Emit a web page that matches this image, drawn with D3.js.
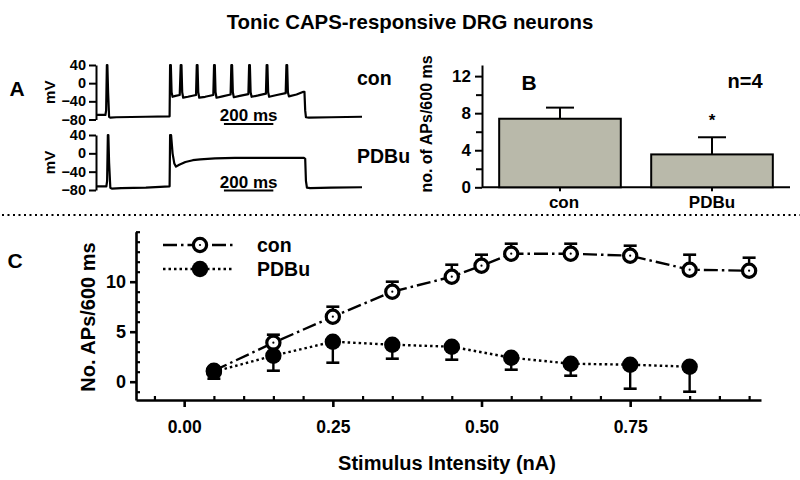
<!DOCTYPE html>
<html><head><meta charset="utf-8">
<script src="https://cdn.jsdelivr.net/npm/d3@7"></script>
<style>body{margin:0;background:#fff}svg{display:block}text{font-family:"Liberation Sans",Arial,sans-serif;font-weight:bold;fill:#000}</style>
</head><body><svg id="c" width="800" height="480"></svg>
<script>
// ---- Panel A: voltage traces [time ms, mV] ----
const traceCon = [[0,-70],[36,-70],[39,-60],[42,40],[44,40],[47,-20],[51,-74],[56,-76],[80,-75],[200,-74],[296,-73],
 [298,40],[301,40],[304,-20],[308,-30],[320,-28],[337,-26],
 [341,40],[344,40],[347,-20],[351,-32],[370,-30],[403,-26],
 [406,40],[409,40],[412,-20],[416,-32],[440,-30],[473,-26],
 [476,40],[479,40],[482,-20],[486,-32],[510,-29],[543,-25],
 [546,40],[549,40],[552,-20],[556,-31],[580,-28],[615,-24],
 [618,40],[621,40],[624,-20],[628,-30],[655,-27],[686,-23],
 [689,40],[692,40],[695,-20],[699,-30],[730,-26],[766,-22],
 [769,40],[772,40],[775,-20],[779,-29],[810,-25],[838,-19],
 [842,-19],[845,-60],[848,-75],[860,-76],[950,-75],[1075,-74]];
const tracePDBu = [[0,-72],[40,-72],[43,-60],[46,40],[48,40],[51,-20],[56,-75],[62,-77],[100,-76],[200,-75],[296,-72],
 [298,40],[302,40],[308,0],[315,-22],[322,-29],[335,-25],[360,-19],[390,-15],[420,-13],[480,-11],[560,-10],[700,-10],[840,-10],
 [845,-12],[848,-60],[852,-75],[865,-76],[950,-75],[1075,-74]];
const mvTicks = [40,0,-40,-80];
const traceLabels = ["con","PDBu"];
const scaleBarMs = [516, 716];

// ---- Panel B: bar chart ----
const bCategories = ["con","PDBu"];
const bMeans = [7.4, 3.55];
const bErr = [1.2, 1.85];
const bTicks = [0,4,8,12];
const bMinor = [2,6,10];

// ---- Panel C: stimulus-response ----
const conX = [0.05,0.15,0.25,0.35,0.45,0.50,0.55,0.65,0.75,0.85,0.95];
const conMean = [1.1,3.9,6.5,9.0,10.5,11.6,12.8,12.8,12.6,11.2,11.1];
const conErr = [0.3,0.8,1.0,1.0,1.2,1.1,1.0,1.0,1.0,1.5,1.3];
const pdbuX = [0.05,0.15,0.25,0.35,0.45,0.55,0.65,0.75,0.85];
const pdbuMean = [1.0,2.6,4.0,3.7,3.5,2.4,1.8,1.7,1.5];
const pdbuErr = [0.7,1.5,2.1,1.4,1.3,1.2,1.2,2.4,2.5];
const cXTicks = [0,0.25,0.5,0.75];
const cXMinor = [-0.05,0.05,0.1,0.15,0.2,0.3,0.35,0.4,0.45,0.55,0.6,0.65,0.7,0.8,0.85,0.9,0.95];
const cYTicks = [0,5,10];
const cYMinor = [-1,1,2,3,4,6,7,8,9,11,12,13,14,15];

const svg = d3.select("#c");

function styleAxis(g, w, fs){
  g.selectAll("path.domain").attr("stroke","#000").attr("stroke-width",w);
  g.selectAll(".tick line").attr("stroke","#000").attr("stroke-width",w);
  g.selectAll(".tick text").style("font-size",fs+"px").style("font-weight","bold").attr("fill","#000");
}

// Title
svg.append("text").attr("x",410).attr("y",29).attr("text-anchor","middle").style("font-size","20.4px")
  .text("Tonic CAPS-responsive DRG neurons");

// ===== Panel A =====
svg.append("text").attr("x",17).attr("y",96).attr("text-anchor","middle").style("font-size","21px").text("A");
const tX = d3.scaleLinear().domain([0,1075]).range([96.5,362]);
const yTop = d3.scaleLinear().domain([-80,40]).range([119.5,65]);
const yBot = d3.scaleLinear().domain([-80,40]).range([190,135]);
const line = (ys)=> d3.line().x(d=>tX(d[0])).y(d=>ys(d[1]));
[[yTop,traceCon,0],[yBot,tracePDBu,1]].forEach(([ys,tr,i])=>{
  const g = svg.append("g").attr("transform","translate(96,0)")
    .call(d3.axisLeft(ys).tickValues(mvTicks).tickSize(7).tickSizeOuter(0).tickPadding(3));
  styleAxis(g,2,14.5);
  svg.append("text").attr("transform",`translate(55,${(ys(40)+ys(-80))/2}) rotate(-90)`)
    .attr("text-anchor","middle").style("font-size","15px").text("mV");
  svg.append("path").datum(tr).attr("d",line(ys)).attr("fill","none").attr("stroke","#000")
    .attr("stroke-width",2.2).attr("stroke-linejoin","round");
  svg.append("text").attr("x",357).attr("y",(i===0?85:163)).style("font-size","19.5px").text(traceLabels[i]);
  const barY = i===0 ? 124 : 190.5;
  svg.append("line").attr("x1",tX(scaleBarMs[0])).attr("x2",tX(scaleBarMs[1])).attr("y1",barY).attr("y2",barY)
    .attr("stroke","#000").attr("stroke-width",2);
  svg.append("text").attr("x",(tX(scaleBarMs[0])+tX(scaleBarMs[1]))/2).attr("y",barY-3).attr("text-anchor","middle")
    .style("font-size","17px").text((scaleBarMs[1]-scaleBarMs[0])+" ms");
});

// ===== Panel B =====
const bx = d3.scaleBand().domain(bCategories).range([482,790]).paddingInner(0.2).paddingOuter(0.113);
const by = d3.scaleLinear().domain([0,13.2]).range([187.3,65]);
const gBy = svg.append("g").attr("transform","translate(482,0)")
  .call(d3.axisLeft(by).tickValues(bTicks).tickSize(7).tickSizeOuter(0).tickPadding(4));
styleAxis(gBy,2,17);
const gBm = svg.append("g").attr("transform","translate(482,0)")
  .call(d3.axisLeft(by).tickValues(bMinor).tickSize(6).tickSizeOuter(0).tickFormat(""));
styleAxis(gBm,2,17); gBm.select("path.domain").remove();
const gBx = svg.append("g").attr("transform","translate(0,187.3)")
  .call(d3.axisBottom(bx).tickSize(4).tickSizeOuter(0).tickPadding(5));
styleAxis(gBx,2,17);
gBx.select("path.domain").attr("d","M482,0H790");
gBx.selectAll(".tick text").attr("dx",(d,i)=>i===0?4:0);
svg.selectAll("rect.bar").data(bCategories).join("rect").attr("class","bar")
  .attr("x",d=>bx(d)).attr("width",bx.bandwidth())
  .attr("y",(d,i)=>by(bMeans[i])).attr("height",(d,i)=>by(0)-by(bMeans[i]))
  .attr("fill","#b9b9aa").attr("stroke","#000").attr("stroke-width",2);
bCategories.forEach((c,i)=>{
  const cx = bx(c)+bx.bandwidth()/2;
  svg.append("line").attr("x1",cx).attr("x2",cx).attr("y1",by(bMeans[i])).attr("y2",by(bMeans[i]+bErr[i]))
    .attr("stroke","#000").attr("stroke-width",2);
  svg.append("line").attr("x1",cx-14).attr("x2",cx+14).attr("y1",by(bMeans[i]+bErr[i])).attr("y2",by(bMeans[i]+bErr[i]))
    .attr("stroke","#000").attr("stroke-width",2);
});
svg.append("text").attr("x",529).attr("y",90).attr("text-anchor","middle").style("font-size","21px").text("B");
svg.append("text").attr("x",745).attr("y",88).attr("text-anchor","middle").style("font-size","20px").text("n=4");
svg.append("text").attr("x",bx("PDBu")+bx.bandwidth()/2).attr("y",126).attr("text-anchor","middle").style("font-size","17px").text("*");
svg.append("text").attr("transform","translate(432,124) rotate(-90)").attr("text-anchor","middle")
  .style("font-size","16px").text("no. of APs/600 ms");

// separator
svg.append("line").attr("x1",2).attr("x2",800).attr("y1",215).attr("y2",215)
  .attr("stroke","#000").attr("stroke-width",2).attr("stroke-dasharray","2,3.5");

// ===== Panel C =====
const cx = d3.scaleLinear().domain([-0.081,0.97]).range([136,761]);
const cy = d3.scaleLinear().domain([-1.83,15]).range([400,231.7]);
const gCx = svg.append("g").attr("transform","translate(0,400)")
  .call(d3.axisBottom(cx).tickValues(cXTicks).tickSize(7).tickSizeOuter(0).tickPadding(14).tickFormat(d3.format(".2f")));
styleAxis(gCx,2.6,17.5);
const gCxm = svg.append("g").attr("transform","translate(0,400)")
  .call(d3.axisBottom(cx).tickValues(cXMinor).tickSize(-4).tickSizeOuter(0).tickFormat(""));
styleAxis(gCxm,2.2,16); gCxm.select("path.domain").remove();
const gCy = svg.append("g").attr("transform","translate(136,0)")
  .call(d3.axisLeft(cy).tickValues(cYTicks).tickSize(6).tickSizeOuter(0).tickPadding(4));
styleAxis(gCy,2.6,18);
const gCym = svg.append("g").attr("transform","translate(136,0)")
  .call(d3.axisLeft(cy).tickValues(cYMinor).tickSize(-4).tickSizeOuter(0).tickFormat(""));
styleAxis(gCym,2.2,16); gCym.select("path.domain").remove();
svg.append("text").attr("x",15).attr("y",268).attr("text-anchor","middle").style("font-size","21px").text("C");
svg.append("text").attr("transform","translate(95,317) rotate(-90)").attr("text-anchor","middle")
  .style("font-size","20px").text("No. APs/600 ms");
svg.append("text").attr("x",447).attr("y",470).attr("text-anchor","middle").style("font-size","20px")
  .text("Stimulus Intensity (nA)");

const conData = conX.map((x,i)=>({x, m:conMean[i], e:conErr[i]}));
const pdbuData = pdbuX.map((x,i)=>({x, m:pdbuMean[i], e:pdbuErr[i]}));
const cLine = d3.line().x(d=>cx(d.x)).y(d=>cy(d.m));
const conDash = "14,4,2.5,4";
const pdbuDash = "2.5,3";
// con
svg.append("path").datum(conData).attr("d",cLine).attr("fill","none").attr("stroke","#000")
  .attr("stroke-width",2.4).attr("stroke-dasharray",conDash);
conData.forEach(d=>{
  const X=cx(d.x);
  svg.append("line").attr("x1",X).attr("x2",X).attr("y1",cy(d.m)).attr("y2",cy(d.m+d.e)).attr("stroke","#000").attr("stroke-width",2.4);
  svg.append("line").attr("x1",X-6.5).attr("x2",X+6.5).attr("y1",cy(d.m+d.e)).attr("y2",cy(d.m+d.e)).attr("stroke","#000").attr("stroke-width",2.6);
});
svg.selectAll("circle.con").data(conData).join("circle").attr("class","con")
  .attr("cx",d=>cx(d.x)).attr("cy",d=>cy(d.m)).attr("r",6.6).attr("fill","#fff").attr("stroke","#000").attr("stroke-width",3.2);
svg.selectAll("circle.cond").data(conData).join("circle").attr("class","cond")
  .attr("cx",d=>cx(d.x)).attr("cy",d=>cy(d.m)).attr("r",1.1).attr("fill","#000");
// PDBu
svg.append("path").datum(pdbuData).attr("d",cLine).attr("fill","none").attr("stroke","#000")
  .attr("stroke-width",2.4).attr("stroke-dasharray",pdbuDash);
pdbuData.forEach(d=>{
  const X=cx(d.x);
  svg.append("line").attr("x1",X).attr("x2",X).attr("y1",cy(d.m)).attr("y2",cy(d.m-d.e)).attr("stroke","#000").attr("stroke-width",2.4);
  svg.append("line").attr("x1",X-6.5).attr("x2",X+6.5).attr("y1",cy(d.m-d.e)).attr("y2",cy(d.m-d.e)).attr("stroke","#000").attr("stroke-width",2.6);
});
svg.selectAll("circle.pd").data(pdbuData).join("circle").attr("class","pd")
  .attr("cx",d=>cx(d.x)).attr("cy",d=>cy(d.m)).attr("r",8.2).attr("fill","#000");

// legend
const leg = [{name:"con",y:245,dash:conDash,open:true},{name:"PDBu",y:269,dash:pdbuDash,open:false}];
leg.forEach(l=>{
  svg.append("line").attr("x1",163).attr("x2",233).attr("y1",l.y).attr("y2",l.y).attr("stroke","#000")
    .attr("stroke-width",2.4).attr("stroke-dasharray",l.dash);
  if(l.open){
    svg.append("circle").attr("cx",200).attr("cy",l.y).attr("r",6.6).attr("fill","#fff").attr("stroke","#000").attr("stroke-width",3.2);
    svg.append("circle").attr("cx",200).attr("cy",l.y).attr("r",1.1).attr("fill","#000");
  } else {
    svg.append("circle").attr("cx",200).attr("cy",l.y).attr("r",8.2).attr("fill","#000");
  }
  svg.append("text").attr("x",257).attr("y",l.y+7).style("font-size","19.5px").text(l.name);
});
</script></body></html>
